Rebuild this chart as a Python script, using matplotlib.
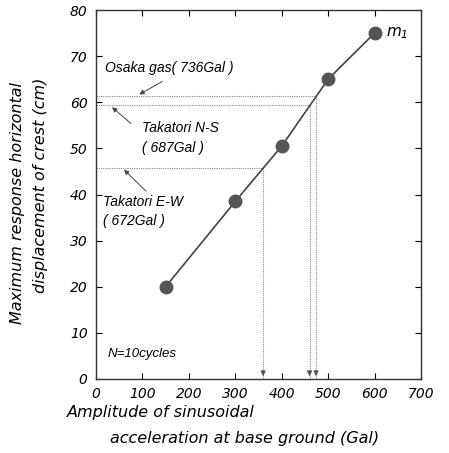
import matplotlib
matplotlib.use("Agg")
import matplotlib.pyplot as plt

# --- Data ---
amplitude = [150, 300, 400, 500, 600]          # Gal
displacement = [20, 38.5, 50.5, 65, 75]        # cm

# Earthquake records: label, response level (cm), equivalent amplitude (Gal)
quake_labels = ["Osaka gas( 736Gal )", "Takatori N-S\n( 687Gal )", "Takatori E-W\n( 672Gal )"]
quake_levels = [61.4, 59.3, 45.8]
quake_amps = [474, 460, 360]

xticks = [0, 100, 200, 300, 400, 500, 600, 700]
yticks = [0, 10, 20, 30, 40, 50, 60, 70, 80]

plt.rcParams['font.family'] = ['Liberation Sans', 'DejaVu Sans']
plt.rcParams['font.style'] = 'italic'

fig = plt.figure(figsize=(4.49, 4.53), dpi=100)
ax = fig.add_axes([96/449, 1-379/453, 325/449, 369/453])

# Dotted guide lines for each record, arrow down to the x axis
for lvl, amp in zip(quake_levels, quake_amps):
    ax.plot([0, amp], [lvl, lvl], color='#888888', lw=0.8, ls=(0, (1, 1)))
    ax.plot([amp, amp], [lvl, 0], color='#888888', lw=0.8, ls=(0, (1, 1)))
    ax.annotate('', xy=(amp, 0), xytext=(amp, 2.5),
                arrowprops=dict(arrowstyle='-|>', color='#555555', lw=0.6,
                                mutation_scale=8))

# Response curve
ax.plot(amplitude, displacement, color='#444444', lw=1.2, marker='o',
        markersize=9, markerfacecolor='#555555', markeredgecolor='#555555')
ax.text(625, 75, '$m_1$', fontsize=11, va='center', ha='left')

# Record labels
ax.text(20, 67.5, quake_labels[0], fontsize=10, va='center', ha='left')
ax.text(99, 52.3, quake_labels[1], fontsize=10, va='center', ha='left',
        linespacing=1.5)
ax.text(15, 36.3, quake_labels[2], fontsize=10, va='center', ha='left',
        linespacing=1.5)

# Pointer arrows from labels to the guide lines
arrow = dict(arrowstyle='-|>', color='#444444', lw=0.7, mutation_scale=7)
ax.annotate('', xy=(88, quake_levels[0]), xytext=(148, 64.8), arrowprops=arrow)
ax.annotate('', xy=(30, quake_levels[1]), xytext=(80, 55.0), arrowprops=arrow)
ax.annotate('', xy=(56, quake_levels[2]), xytext=(112, 40.3), arrowprops=arrow)

ax.text(25, 5.5, 'N=10cycles', fontsize=9.5, va='center', ha='left')

ax.set_xlim(0, 700)
ax.set_ylim(0, 80)
ax.set_xticks(xticks)
ax.set_yticks(yticks)
ax.tick_params(direction='in', top=True, right=True, length=4, pad=6)
for lab in ax.get_xticklabels() + ax.get_yticklabels():
    lab.set_family(['DejaVu Sans'])
    lab.set_fontsize(10)
for s in ax.spines.values():
    s.set_linewidth(1.0)
    s.set_color('#333333')

lab_font = dict(family=['DejaVu Sans'], fontsize=11.5)
fig.text(18/449, 1-203/453, 'Maximum response horizontal', rotation=90,
         ha='center', va='center', **lab_font)
fig.text(41/449, 1-185/453, 'displacement of crest (cm)', rotation=90,
         ha='center', va='center', **lab_font)
fig.text(67/449, 1-413/453, 'Amplitude of sinusoidal',
         ha='left', va='center', **lab_font)
fig.text(110/449, 1-438/453, 'acceleration at base ground (Gal)',
         ha='left', va='center', **lab_font)

fig.savefig('out.png', dpi=100)
